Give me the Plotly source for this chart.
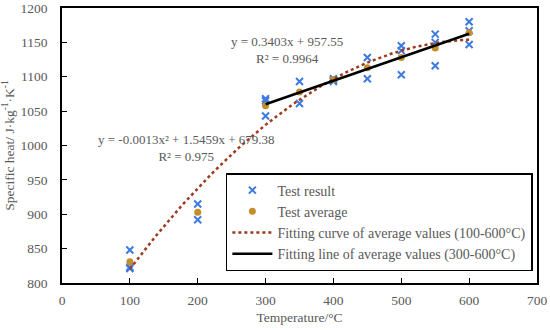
import numpy as np
import plotly.graph_objects as go

# Test results (individual specimens)
res_x = [100, 100, 100, 200, 200, 300, 300, 300, 350, 350, 400, 400, 400,
         450, 450, 500, 500, 500, 550, 550, 550, 600, 600, 600]
res_y = [848, 823, 821, 915, 892, 1068, 1065, 1043, 1093, 1061, 1097, 1095, 1093,
         1128, 1097, 1145, 1138, 1103, 1162, 1150, 1116, 1180, 1167, 1147]

# Test averages
avg_x = [100, 200, 300, 350, 400, 450, 500, 550, 600]
avg_y = [831, 903, 1058, 1078, 1096, 1113, 1128, 1142, 1164]

# Fitted trend lines (from the averages, as the chart's trendlines)
quad = np.polyfit(avg_x, avg_y, 2)
xq = np.linspace(100, 600, 101)
yq = np.polyval(quad, xq)

lin_x = [x for x in avg_x if x >= 300]
lin_y = [y for x, y in zip(avg_x, avg_y) if x >= 300]
lin = np.polyfit(lin_x, lin_y, 1)
xl = np.array([300, 600])
yl = np.polyval(lin, xl)

FONT = "Liberation Serif, Times New Roman, serif"
GRAY = "#595959"

fig = go.Figure()
fig.add_trace(go.Scatter(x=res_x, y=res_y, mode="markers", name="Test result",
                         marker=dict(symbol="x-thin", size=7,
                                     line=dict(color="#3D7BE0", width=2))))
fig.add_trace(go.Scatter(x=avg_x, y=avg_y, mode="markers", name="Test average",
                         marker=dict(symbol="circle", size=7, color="#C48E2A")))
fig.add_trace(go.Scatter(x=xq, y=yq, mode="lines",
                         name="Fitting curve of average values (100-600°C)",
                         line=dict(color="#9C3A1C", width=2.5, dash="dot")))
fig.add_trace(go.Scatter(x=xl, y=yl, mode="lines",
                         name="Fitting line of average values (300-600°C)",
                         line=dict(color="black", width=2.5)))

fig.add_annotation(x=332, y=1139, xref="x", yref="y",
                   text="y = 0.3403x + 957.55<br>R² = 0.9964", showarrow=False,
                   font=dict(family=FONT, size=13, color=GRAY), align="center")
fig.add_annotation(x=182, y=997, xref="x", yref="y",
                   text="y = -0.0013x² + 1.5459x + 679.38<br>R² = 0.975", showarrow=False,
                   font=dict(family=FONT, size=13, color=GRAY), align="center")

axis_common = dict(showgrid=False, zeroline=False, ticks="inside", ticklen=5,
                   tickcolor="black", showline=True, linecolor="black", linewidth=1.5,
                   mirror=True, automargin=False,
                   tickfont=dict(family=FONT, size=13.5, color=GRAY))

fig.update_xaxes(range=[0, 700], dtick=100, tick0=0, ticklabelstandoff=4,
                 title=dict(text="Temperature/°C", font=dict(family=FONT, size=13.5, color=GRAY),
                            standoff=6),
                 **axis_common)
fig.update_yaxes(range=[800, 1200], dtick=50, tick0=800, ticklabelstandoff=10,
                 title=dict(text="Specific heat/ J·kg<sup>-1</sup>·K<sup>-1</sup>",
                            font=dict(family=FONT, size=13.5, color=GRAY), standoff=4),
                 **axis_common)

fig.update_layout(
    width=550, height=330,
    margin=dict(l=62, r=13, t=8, b=47, autoexpand=False),
    paper_bgcolor="white", plot_bgcolor="white",
    font=dict(family=FONT, size=13, color=GRAY),
    legend=dict(x=0.345, y=0.40, xanchor="left", yanchor="top",
                bgcolor="white", bordercolor="black", borderwidth=1.5,
                font=dict(family=FONT, size=14, color=GRAY),
                tracegroupgap=0, itemwidth=40),
    showlegend=True,
)

fig.write_html("out.html", post_script="document.body.style.margin='0';",
               config={"displayModeBar": False})
